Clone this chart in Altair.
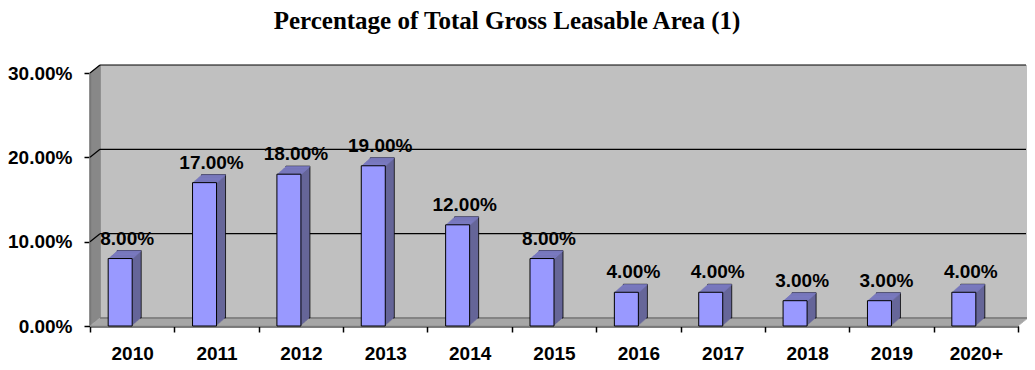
import altair as alt
import pandas as pd

years = ["2010", "2011", "2012", "2013", "2014", "2015", "2016", "2017", "2018", "2019", "2020+"]
values = [0.08, 0.17, 0.18, 0.19, 0.12, 0.08, 0.04, 0.04, 0.03, 0.03, 0.04]
grid_values = [0.1, 0.2, 0.3]

W, H = 928, 253
DX, DY = 10, 8  # 3D depth of walls
BDX, BDY = 9, 8  # 3D depth of bars
BAR_W = 24
BAR_SHIFT = -12

df = pd.DataFrame({"year": years, "value": values})
walls = pd.DataFrame({"lo": [0.0], "hi": [0.3]})
grid = pd.DataFrame({"g": grid_values})

FONT = "Liberation Sans"
xenc = alt.X("year:N", sort=years, title=None,
             scale=alt.Scale(paddingInner=0, paddingOuter=0),
             axis=alt.Axis(labelAngle=0, labelFont=FONT, labelFontSize=19, labelFontWeight="bold",
                           labelColor="black", labelPadding=12, tickBand="extent", tickSize=6,
                           tickColor="black", tickWidth=1.5, domainColor="black", domainWidth=2))
yscale = alt.Scale(domain=[0, 0.3])
yaxis = alt.Axis(values=[0, 0.1, 0.2, 0.3], format=".2%", grid=False, labelFont=FONT,
                 labelFontSize=19, labelFontWeight="bold", labelColor="black",
                 labelPadding=12, tickSize=6, tickColor="black", tickWidth=1.5,
                 domainColor="black", domainWidth=1.5)


def Y(field):
    return alt.Y(field, scale=yscale, title=None, axis=yaxis)


layers = []
# back wall
layers.append(alt.Chart(walls).mark_rect(color="#C0C0C0", xOffset=DX, yOffset=-DY, x2Offset=DX, y2Offset=-DY).encode(
    x=alt.value(0), x2=alt.value(W), y=Y("hi:Q"), y2="lo:Q"))
# left wall (stack of vertical rules)
for k in range(0, DX + 1):
    off = -DY * k / DX
    layers.append(alt.Chart(walls).mark_rule(color="#808080", strokeWidth=1.5, yOffset=off, y2Offset=off).encode(
        x=alt.value(k), y=Y("hi:Q"), y2="lo:Q"))
# floor (stack of horizontal rules)
for k in range(0, DY + 1):
    xo = DX * k / DY
    layers.append(alt.Chart(walls).mark_rule(color="#A0A0A0", strokeWidth=1.5, yOffset=-k, y2Offset=-k).encode(
        x=alt.value(xo), x2=alt.value(W + xo), y=Y("lo:Q")))
# floor back edge
layers.append(alt.Chart(walls).mark_rule(color="#606060", strokeWidth=1, yOffset=-DY).encode(
    x=alt.value(DX), x2=alt.value(W + DX), y=Y("lo:Q")))
# gridlines on back wall
layers.append(alt.Chart(grid).mark_rule(color="black", strokeWidth=1.2, yOffset=-DY).encode(
    x=alt.value(DX), x2=alt.value(W + DX - 2), y=Y("g:Q")))
# gridlines on left wall (diagonals)
layers.append(alt.Chart(grid).mark_rule(color="black", strokeWidth=1.2, y2Offset=-DY).encode(
    x=alt.value(0), x2=alt.value(DX), y=Y("g:Q"), y2="g:Q"))

# 3D bars: depth layers from back to front
for k in range(BDX, 0, -1):
    xo = BAR_SHIFT + k
    yo = -BDY * k / BDX
    layers.append(alt.Chart(df).mark_bar(size=BAR_W, color="#666699", xOffset=xo, yOffset=yo, y2Offset=yo,
                                         stroke="black" if k == BDX else None, strokeWidth=0.8 if k == BDX else 0).encode(
        x=xenc, y=Y("value:Q")))
    layers.append(alt.Chart(df).mark_tick(size=BAR_W, thickness=1.5, color="#8080CC", xOffset=xo, yOffset=yo + 0.5,
                                          orient="horizontal").encode(x=xenc, y=Y("value:Q")))
# front face
layers.append(alt.Chart(df).mark_bar(size=BAR_W, color="#9999FF", stroke="black", strokeWidth=1,
                                     xOffset=BAR_SHIFT).encode(x=xenc, y=Y("value:Q")))
# value labels
layers.append(alt.Chart(df).mark_text(font=FONT, fontSize=19, fontWeight="bold", color="black",
                                      baseline="alphabetic", dy=-14, dx=-5).encode(
    x=xenc, y=Y("value:Q"), text=alt.Text("value:Q", format=".2%")))

chart = alt.layer(*layers).properties(
    width=W, height=H,
    padding={"left": 82, "top": 65, "right": 9, "bottom": 36},
    autosize=alt.AutoSizeParams(type="none"),
    background="white",
    title=alt.TitleParams("Percentage of Total Gross Leasable Area (1)", font="Liberation Serif",
                          fontSize=25, fontWeight="bold", color="black", anchor="middle",
                          frame="group", dx=-47, offset=30),
).configure_view(stroke=None)

chart.save("out.html", embed_options={"renderer": "svg", "actions": False})
